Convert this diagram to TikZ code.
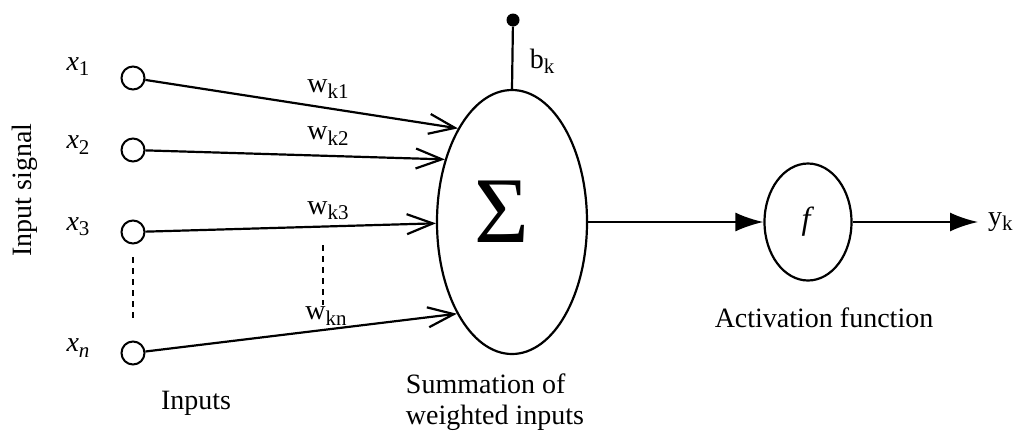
\documentclass[tikz,border=0pt]{standalone}
\usepackage{fontspec}
\setmainfont{Liberation Serif}
\usetikzlibrary{arrows.meta,shapes.geometric}
\newcommand\lowsub[1]{\raisebox{-0.4ex}{\fontsize{21}{21}\selectfont #1}}
\tikzset{
  every node/.style={font=\fontsize{28}{31}\selectfont},
  line/.style={line width=2.2pt},
  inp/.style={circle,draw,line width=2pt,minimum size=23pt,inner sep=0pt},
  wire/.style={line,-{Straight Barb[length=26pt,width=20pt,line width=2.2pt]}},
  fwire/.style={line,-{Latex[length=28pt,width=19pt]}},
  dots/.style={line width=2.2pt,dash pattern=on 6pt off 5pt},
  lbl/.style={inner sep=0pt},
}
\begin{document}
\begin{tikzpicture}[x=1pt,y=-1pt]
\useasboundingbox (0,0) rectangle (1020,437);
% inputs
\node[inp] (i1) at (133,78) {};
\node[inp] (i2) at (133,150) {};
\node[inp] (i3) at (133,232) {};
\node[inp] (in) at (133,353) {};
\node[lbl] (lx1) at (78,67) {\textit{x}\lowsub{1}};
\node[lbl] (lx2) at (78,145) {\textit{x}\lowsub{2}};
\node[lbl] (lx3) at (78,227) {\textit{x}\lowsub{3}};
\node[lbl] (lxn) at (78,348) {\textit{x}\lowsub{\textit{n}}};
\coordinate (d1a) at (133,257);
\coordinate (d1b) at (133,318);
\draw[dots] (d1a) -- (d1b);
\node[lbl,rotate=90] (sig) at (25,190) {Input signal};
\node[lbl] (inputs) at (196,403) {Inputs};
% summation
\node[ellipse,draw,line width=2.2pt,minimum width=150pt,minimum height=264pt,inner sep=0pt] (sum) at (512,222) {};
\node[lbl,font=\fontsize{94}{94}\selectfont] (sig) at (502,212) {Σ};
\draw[wire] (i1) -- (sum.120);
\draw[wire] (i2) -- (sum.137);
\draw[wire] (i3) -- (sum.181);
\draw[wire] (in) -- (sum.239);
\node[lbl] (w1) at (328,89) {w\lowsub{k1}};
\node[lbl] (w2) at (328,136) {w\lowsub{k2}};
\node[lbl] (w3) at (328,211) {w\lowsub{k3}};
\node[lbl] (wn) at (326,316) {w\lowsub{kn}};
\coordinate (d2a) at (323,245);
\coordinate (d2b) at (323,305);
\draw[dots] (d2a) -- (d2b);
% bias
\node[circle,fill,minimum size=13pt,inner sep=0pt] (b) at (513,20) {};
\draw[line] (b) -- (sum.north);
\node[lbl] (bk) at (542,61) {b\lowsub{k}};
\node[lbl,align=left] (sumlbl) at (495,402) {Summation of\\weighted inputs};
% activation
\node[ellipse,draw,line width=2.2pt,minimum width=87pt,minimum height=117pt,inner sep=0pt,font=\fontsize{32}{32}\selectfont] (f) at (808,222) {\textit{f}};
\draw[fwire] (sum.east) -- (f.west);
\node[anchor=west,inner xsep=10pt,inner ysep=0pt] (yk) at (978,222) {y\lowsub{k}};
\draw[fwire] (f.east) -- (yk.west);
\node[lbl] (act) at (824,318) {Activation function};
\end{tikzpicture}
\end{document}
